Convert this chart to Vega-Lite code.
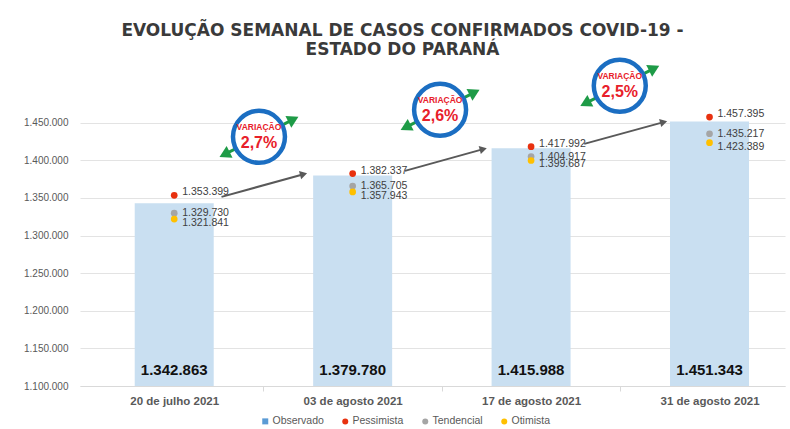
{
  "$schema": "https://vega.github.io/schema/vega-lite/v6.json",
  "autosize": {"type": "none"},
  "width": 705,
  "height": 301,
  "padding": {"left": 80, "top": 85, "right": 5, "bottom": 43},
  "background": "white",
  "config": {
    "view": {"stroke": null},
    "locale": {"number": {"decimal": ",", "thousands": ".", "grouping": [3], "currency": ["R$", ""]}}
  },
  "title": {
    "text": ["EVOLUÇÃO SEMANAL DE CASOS CONFIRMADOS COVID-19 -", "ESTADO DO PARANÁ"],
    "font": "DejaVu Sans",
    "fontSize": 17,
    "fontWeight": "bold",
    "color": "#3a3a3a",
    "anchor": "middle",
    "frame": "group",
    "dx": -30,
    "dy": 36,
    "lineHeight": 19,
    "offset": 28
  },
  "datasets": {
    "obs": [
      {"i": 0, "semana": "20 de julho 2021", "observado": 1342863},
      {"i": 1, "semana": "03 de agosto 2021", "observado": 1379780},
      {"i": 2, "semana": "17 de agosto 2021", "observado": 1415988},
      {"i": 3, "semana": "31 de agosto 2021", "observado": 1451343}
    ],
    "proj": [
      {"i": 0, "serie": "Pessimista", "valor": 1353399},
      {"i": 0, "serie": "Tendencial", "valor": 1329730},
      {"i": 0, "serie": "Otimista", "valor": 1321841},
      {"i": 1, "serie": "Pessimista", "valor": 1382337},
      {"i": 1, "serie": "Tendencial", "valor": 1365705},
      {"i": 1, "serie": "Otimista", "valor": 1357943},
      {"i": 2, "serie": "Pessimista", "valor": 1417992},
      {"i": 2, "serie": "Tendencial", "valor": 1404917},
      {"i": 2, "serie": "Otimista", "valor": 1399687},
      {"i": 3, "serie": "Pessimista", "valor": 1457395},
      {"i": 3, "serie": "Tendencial", "valor": 1435217},
      {"i": 3, "serie": "Otimista", "valor": 1423389}
    ],
    "setas": [
      {"x0": 0.265, "y0": 1351300, "x1": 0.725, "y1": 1381500},
      {"x0": 1.293, "y0": 1385900, "x1": 1.732, "y1": 1414800},
      {"x0": 2.298, "y0": 1421800, "x1": 2.743, "y1": 1450700}
    ],
    "bolhas": [
      {"bx": 0.475, "by": 1431100, "pct": "2,7%", "gx0": 0.282, "gy0": 1407800, "gx1": 0.668, "gy1": 1454400},
      {"bx": 1.49, "by": 1467000, "pct": "2,6%", "gx0": 1.297, "gy0": 1443700, "gx1": 1.683, "gy1": 1490300},
      {"bx": 2.497, "by": 1498900, "pct": "2,5%", "gx0": 2.304, "gy0": 1475600, "gx1": 2.69, "gy1": 1522200}
    ]
  },
  "encoding": {
    "x": {"type": "quantitative", "scale": {"domain": [-0.5, 3.395], "nice": false, "zero": false}},
    "y": {"type": "quantitative", "scale": {"domain": [1100000, 1500000], "nice": false, "zero": false}}
  },
  "layer": [
    {
      "data": {"name": "obs"},
      "mark": {"type": "bar", "width": 79, "color": "#C9DFF1", "clip": false},
      "encoding": {
        "x": {"field": "i", "type": "quantitative",
          "axis": {
            "title": null,
            "values": [0, 0.5, 1, 1.5, 2, 2.5, 3],
            "labelExpr": "datum.value == 0 ? '20 de julho 2021' : datum.value == 1 ? '03 de agosto 2021' : datum.value == 2 ? '17 de agosto 2021' : datum.value == 3 ? '31 de agosto 2021' : ''",
            "grid": false,
            "domainColor": "#D9D9D9",
            "tickColor": "#D9D9D9",
            "tickSize": 5,
            "tickOpacity": {"condition": {"test": "datum.value % 1 == 0", "value": 0}, "value": 1},
            "labelPadding": 4,
            "labelFont": "Liberation Sans",
            "labelFontSize": 11.5,
            "labelFontWeight": "bold",
            "labelColor": "#595959",
            "labelFlush": false,
            "labelOverlap": false
          }
        },
        "y": {"field": "observado", "type": "quantitative",
          "axis": {
            "title": null,
            "values": [1100000, 1150000, 1200000, 1250000, 1300000, 1350000, 1400000, 1450000],
            "format": ",d",
            "domain": false,
            "ticks": false,
            "gridColor": "#E3E3E3",
            "labelPadding": 12,
            "labelFont": "Liberation Sans",
            "labelFontSize": 10,
            "labelColor": "#595959"
          }
        },
        "y2": {"datum": 1100000}
      }
    },
    {
      "data": {"name": "obs"},
      "mark": {"type": "text", "font": "Liberation Sans", "fontSize": 15, "fontWeight": "bold", "color": "#111111", "baseline": "bottom", "dy": -8},
      "encoding": {
        "x": {"field": "i", "type": "quantitative"},
        "y": {"datum": 1100000},
        "text": {"field": "observado", "type": "quantitative", "format": ",d"}
      }
    },
    {
      "data": {"name": "setas"},
      "mark": {"type": "rule", "color": "#595959", "strokeWidth": 2, "clip": false},
      "encoding": {
        "x": {"field": "x0", "type": "quantitative"},
        "y": {"field": "y0", "type": "quantitative"},
        "x2": {"field": "x1"},
        "y2": {"field": "y1"}
      }
    },
    {
      "data": {"name": "setas"},
      "mark": {"type": "point", "shape": "triangle-right", "filled": true, "color": "#595959", "opacity": 1, "size": 70, "angle": -15, "clip": false},
      "encoding": {
        "x": {"field": "x1", "type": "quantitative"},
        "y": {"field": "y1", "type": "quantitative"}
      }
    },
    {
      "data": {"name": "proj"},
      "mark": {"type": "point", "filled": true, "opacity": 1, "size": 45},
      "encoding": {
        "x": {"field": "i", "type": "quantitative"},
        "y": {"field": "valor", "type": "quantitative"},
        "color": {"field": "serie", "type": "nominal",
          "scale": {"domain": ["Observado", "Pessimista", "Tendencial", "Otimista"], "range": ["#5B9BD5", "#E8310F", "#A5A5A5", "#FFC000"]},
          "legend": {
            "title": null, "orient": "none", "legendX": 180, "legendY": 331,
            "direction": "horizontal", "columns": 4, "columnPadding": 16,
            "labelFont": "Liberation Sans", "labelFontSize": 10.5, "labelColor": "#595959",
            "symbolSize": 36, "labelOffset": 2
          }
        },
        "shape": {"field": "serie", "type": "nominal",
          "scale": {"domain": ["Observado", "Pessimista", "Tendencial", "Otimista"], "range": ["square", "circle", "circle", "circle"]},
          "legend": {
            "title": null, "orient": "none", "legendX": 180, "legendY": 331,
            "direction": "horizontal", "columns": 4, "columnPadding": 16,
            "labelFont": "Liberation Sans", "labelFontSize": 10.5, "labelColor": "#595959",
            "symbolSize": 36, "labelOffset": 2
          }
        }
      }
    },
    {
      "data": {"name": "proj"},
      "transform": [{"filter": "datum.serie == 'Pessimista'"}],
      "mark": {"type": "text", "align": "left", "baseline": "middle", "dx": 8, "dy": -3, "font": "Liberation Sans", "fontSize": 10.5, "color": "#404040"},
      "encoding": {
        "x": {"field": "i", "type": "quantitative"},
        "y": {"field": "valor", "type": "quantitative"},
        "text": {"field": "valor", "type": "quantitative", "format": ",d"}
      }
    },
    {
      "data": {"name": "proj"},
      "transform": [{"filter": "datum.serie == 'Tendencial'"}],
      "mark": {"type": "text", "align": "left", "baseline": "middle", "dx": 8, "font": "Liberation Sans", "fontSize": 10.5, "color": "#404040"},
      "encoding": {
        "x": {"field": "i", "type": "quantitative"},
        "y": {"field": "valor", "type": "quantitative"},
        "text": {"field": "valor", "type": "quantitative", "format": ",d"}
      }
    },
    {
      "data": {"name": "proj"},
      "transform": [{"filter": "datum.serie == 'Otimista'"}],
      "mark": {"type": "text", "align": "left", "baseline": "middle", "dx": 8, "dy": 4, "font": "Liberation Sans", "fontSize": 10.5, "color": "#404040"},
      "encoding": {
        "x": {"field": "i", "type": "quantitative"},
        "y": {"field": "valor", "type": "quantitative"},
        "text": {"field": "valor", "type": "quantitative", "format": ",d"}
      }
    },
    {
      "data": {"name": "bolhas"},
      "mark": {"type": "rule", "color": "#1E9B47", "strokeWidth": 3, "clip": false},
      "encoding": {
        "x": {"field": "gx0", "type": "quantitative"},
        "y": {"field": "gy0", "type": "quantitative"},
        "x2": {"field": "gx1"},
        "y2": {"field": "gy1"}
      }
    },
    {
      "data": {"name": "bolhas"},
      "mark": {"type": "point", "shape": "triangle-right", "filled": true, "color": "#1E9B47", "opacity": 1, "size": 170, "angle": -27, "clip": false},
      "encoding": {
        "x": {"field": "gx1", "type": "quantitative"},
        "y": {"field": "gy1", "type": "quantitative"}
      }
    },
    {
      "data": {"name": "bolhas"},
      "mark": {"type": "point", "shape": "triangle-left", "filled": true, "color": "#1E9B47", "opacity": 1, "size": 170, "angle": -27, "clip": false},
      "encoding": {
        "x": {"field": "gx0", "type": "quantitative"},
        "y": {"field": "gy0", "type": "quantitative"}
      }
    },
    {
      "data": {"name": "bolhas"},
      "mark": {"type": "point", "shape": "circle", "filled": false, "fill": "white", "fillOpacity": 1, "stroke": "#1B6EC2", "strokeWidth": 4.5, "opacity": 1, "size": 2700, "clip": false},
      "encoding": {
        "x": {"field": "bx", "type": "quantitative"},
        "y": {"field": "by", "type": "quantitative"}
      }
    },
    {
      "data": {"name": "bolhas"},
      "mark": {"type": "text", "text": "VARIAÇÃO", "font": "Liberation Sans", "fontSize": 8.5, "fontWeight": "bold", "color": "#E8202A", "baseline": "middle", "dy": -10, "clip": false},
      "encoding": {
        "x": {"field": "bx", "type": "quantitative"},
        "y": {"field": "by", "type": "quantitative"}
      }
    },
    {
      "data": {"name": "bolhas"},
      "mark": {"type": "text", "font": "Liberation Sans", "fontSize": 16, "fontWeight": "bold", "color": "#E8202A", "baseline": "middle", "dy": 6, "clip": false},
      "encoding": {
        "x": {"field": "bx", "type": "quantitative"},
        "y": {"field": "by", "type": "quantitative"},
        "text": {"field": "pct"}
      }
    }
  ]
}
